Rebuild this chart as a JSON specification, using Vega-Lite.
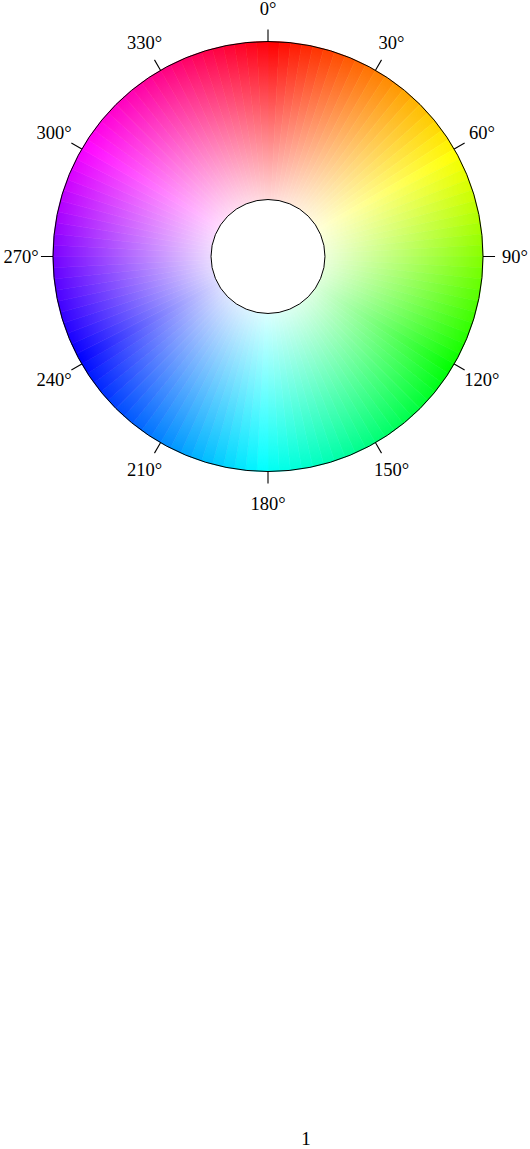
{
  "$schema": "https://vega.github.io/schema/vega-lite/v6.json",
  "width": 536,
  "height": 513,
  "autosize": {"type": "none"},
  "padding": {"left": 0, "top": 0, "right": 0, "bottom": 636},
  "background": "white",
  "config": {"view": {"stroke": null}, "title": {"font": "Liberation Serif", "fontSize": 19, "fontWeight": "normal", "color": "black"}},
  "title": {"text": "1", "orient": "bottom", "offset": 617, "dx": 38, "anchor": "middle", "font": "Liberation Serif", "fontSize": 19, "fontWeight": "normal", "color": "black"},
  "datasets": {
    "hue": [
      {"a":0,"b":3},{"a":3,"b":6},{"a":6,"b":9},{"a":9,"b":12},{"a":12,"b":15},{"a":15,"b":18},{"a":18,"b":21},{"a":21,"b":24},{"a":24,"b":27},{"a":27,"b":30},
      {"a":30,"b":33},{"a":33,"b":36},{"a":36,"b":39},{"a":39,"b":42},{"a":42,"b":45},{"a":45,"b":48},{"a":48,"b":51},{"a":51,"b":54},{"a":54,"b":57},{"a":57,"b":60},
      {"a":60,"b":63},{"a":63,"b":66},{"a":66,"b":69},{"a":69,"b":72},{"a":72,"b":75},{"a":75,"b":78},{"a":78,"b":81},{"a":81,"b":84},{"a":84,"b":87},{"a":87,"b":90},
      {"a":90,"b":93},{"a":93,"b":96},{"a":96,"b":99},{"a":99,"b":102},{"a":102,"b":105},{"a":105,"b":108},{"a":108,"b":111},{"a":111,"b":114},{"a":114,"b":117},{"a":117,"b":120},
      {"a":120,"b":123},{"a":123,"b":126},{"a":126,"b":129},{"a":129,"b":132},{"a":132,"b":135},{"a":135,"b":138},{"a":138,"b":141},{"a":141,"b":144},{"a":144,"b":147},{"a":147,"b":150},
      {"a":150,"b":153},{"a":153,"b":156},{"a":156,"b":159},{"a":159,"b":162},{"a":162,"b":165},{"a":165,"b":168},{"a":168,"b":171},{"a":171,"b":174},{"a":174,"b":177},{"a":177,"b":180},
      {"a":180,"b":183},{"a":183,"b":186},{"a":186,"b":189},{"a":189,"b":192},{"a":192,"b":195},{"a":195,"b":198},{"a":198,"b":201},{"a":201,"b":204},{"a":204,"b":207},{"a":207,"b":210},
      {"a":210,"b":213},{"a":213,"b":216},{"a":216,"b":219},{"a":219,"b":222},{"a":222,"b":225},{"a":225,"b":228},{"a":228,"b":231},{"a":231,"b":234},{"a":234,"b":237},{"a":237,"b":240},
      {"a":240,"b":243},{"a":243,"b":246},{"a":246,"b":249},{"a":249,"b":252},{"a":252,"b":255},{"a":255,"b":258},{"a":258,"b":261},{"a":261,"b":264},{"a":264,"b":267},{"a":267,"b":270},
      {"a":270,"b":273},{"a":273,"b":276},{"a":276,"b":279},{"a":279,"b":282},{"a":282,"b":285},{"a":285,"b":288},{"a":288,"b":291},{"a":291,"b":294},{"a":294,"b":297},{"a":297,"b":300},
      {"a":300,"b":303},{"a":303,"b":306},{"a":306,"b":309},{"a":309,"b":312},{"a":312,"b":315},{"a":315,"b":318},{"a":318,"b":321},{"a":321,"b":324},{"a":324,"b":327},{"a":327,"b":330},
      {"a":330,"b":333},{"a":333,"b":336},{"a":336,"b":339},{"a":339,"b":342},{"a":342,"b":345},{"a":345,"b":348},{"a":348,"b":351},{"a":351,"b":354},{"a":354,"b":357},{"a":357,"b":360}
    ],
    "ticks": [
      {"t":0,"lab":"0°"},{"t":30,"lab":"30°"},{"t":60,"lab":"60°"},{"t":90,"lab":"90°"},
      {"t":120,"lab":"120°"},{"t":150,"lab":"150°"},{"t":180,"lab":"180°"},{"t":210,"lab":"210°"},
      {"t":240,"lab":"240°"},{"t":270,"lab":"270°"},{"t":300,"lab":"300°"},{"t":330,"lab":"330°"}
    ]
  },
  "layer": [
    {
      "data": {"name": "hue"},
      "mark": {"type": "arc", "strokeWidth": 0.6},
      "encoding": {
        "theta": {"field": "a", "type": "quantitative", "stack": null, "scale": {"domain": [0, 360], "range": [0, 6.283185307179586]}},
        "theta2": {"field": "b"},
        "radius": {"datum": 1, "type": "quantitative", "scale": {"type": "linear", "domain": [0, 1], "range": [0, 215], "zero": true}},
        "radius2": {"datum": 0},
        "color": {"field": "a", "type": "quantitative", "legend": null, "scale": {"domain": [0, 60, 120, 180, 240, 300, 360], "range": ["#ff0000", "#ffff00", "#00ff00", "#00ffff", "#0000ff", "#ff00ff", "#ff0000"], "interpolate": "rgb"}},
        "stroke": {"field": "a", "type": "quantitative", "legend": null, "scale": {"domain": [0, 60, 120, 180, 240, 300, 360], "range": ["#ff0000", "#ffff00", "#00ff00", "#00ffff", "#0000ff", "#ff00ff", "#ff0000"], "interpolate": "rgb"}}
      }
    },
    {
      "data": {"values": [{"s": 1}]},
      "mark": {"type": "arc", "color": {"gradient": "radial", "x1": 0.5, "y1": 0.5, "r1": 0, "x2": 0.5, "y2": 0.5, "r2": 0.5, "stops": [{"offset": 0, "color": "rgba(255,255,255,1)"}, {"offset": 0.14, "color": "rgba(255,255,255,1)"}, {"offset": 1, "color": "rgba(255,255,255,0)"}]}},
      "encoding": {
        "theta": {"datum": 0, "type": "quantitative", "scale": {"domain": [0, 360], "range": [0, 6.283185307179586]}},
        "theta2": {"datum": 360},
        "radius": {"field": "s", "type": "quantitative", "scale": {"type": "linear", "domain": [0, 1], "range": [0, 215], "zero": true}},
        "radius2": {"datum": 0}
      }
    },
    {
      "data": {"values": [{"s": 1}]},
      "mark": {"type": "arc", "filled": false, "stroke": "black", "strokeWidth": 1},
      "encoding": {
        "theta": {"datum": 0, "type": "quantitative", "scale": {"domain": [0, 360], "range": [0, 6.283185307179586]}},
        "theta2": {"datum": 360},
        "radius": {"field": "s", "type": "quantitative", "scale": {"type": "linear", "domain": [0, 1], "range": [0, 215], "zero": true}},
        "radius2": {"datum": 0}
      }
    },
    {
      "data": {"values": [{"s": 0.265}]},
      "mark": {"type": "arc", "fill": "white", "stroke": "black", "strokeWidth": 1},
      "encoding": {
        "theta": {"datum": 0, "type": "quantitative", "scale": {"domain": [0, 360], "range": [0, 6.283185307179586]}},
        "theta2": {"datum": 360},
        "radius": {"field": "s", "type": "quantitative", "scale": {"type": "linear", "domain": [0, 1], "range": [0, 215], "zero": true}},
        "radius2": {"datum": 0}
      }
    },
    {
      "data": {"name": "ticks"},
      "mark": {"type": "arc", "filled": false, "stroke": "black", "strokeWidth": 1.1, "strokeCap": "butt"},
      "encoding": {
        "theta": {"field": "t", "type": "quantitative", "stack": null, "scale": {"domain": [0, 360], "range": [0, 6.283185307179586]}},
        "theta2": {"field": "t"},
        "radius": {"datum": 1.056, "type": "quantitative", "scale": {"type": "linear", "domain": [0, 1], "range": [0, 215], "zero": true}},
        "radius2": {"datum": 1}
      }
    },
    {
      "data": {"name": "ticks"},
      "mark": {"type": "text", "font": "Liberation Serif", "fontSize": 18.5, "align": "center", "baseline": "middle", "color": "black"},
      "encoding": {
        "theta": {"field": "t", "type": "quantitative", "stack": null, "scale": {"domain": [0, 360], "range": [0, 6.283185307179586]}},
        "radius": {"datum": 1.149, "type": "quantitative", "scale": {"type": "linear", "domain": [0, 1], "range": [0, 215], "zero": true}},
        "text": {"field": "lab", "type": "nominal"}
      }
    }
  ]
}
